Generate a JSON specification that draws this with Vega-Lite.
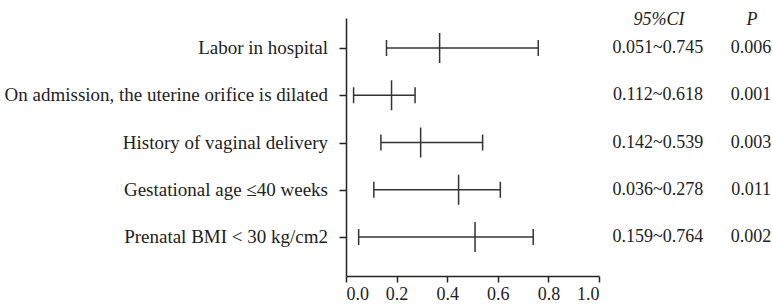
{
  "$schema": "https://vega.github.io/schema/vega-lite/v6.json",
  "width": 253,
  "height": 258,
  "autosize": {"type": "none"},
  "padding": {"left": 346, "top": 18, "right": 173, "bottom": 31},
  "background": "white",
  "config": {
    "view": {"stroke": null},
    "font": "Liberation Serif",
    "text": {"font": "Liberation Serif"}
  },
  "data": {
    "values": [
      {"factor": "Labor in hospital", "row": 5, "lo": 0.16, "or": 0.37, "hi": 0.76, "ci": "0.051~0.745", "p": "0.006"},
      {"factor": "On admission, the uterine orifice is dilated", "row": 4, "lo": 0.03, "or": 0.18, "hi": 0.273, "ci": "0.112~0.618", "p": "0.001"},
      {"factor": "History of vaginal delivery", "row": 3, "lo": 0.138, "or": 0.295, "hi": 0.54, "ci": "0.142~0.539", "p": "0.003"},
      {"factor": "Gestational age ≤40 weeks", "row": 2, "lo": 0.11, "or": 0.445, "hi": 0.61, "ci": "0.036~0.278", "p": "0.011"},
      {"factor": "Prenatal BMI < 30 kg/cm2", "row": 1, "lo": 0.05, "or": 0.51, "hi": 0.74, "ci": "0.159~0.764", "p": "0.002"}
    ]
  },
  "layer": [
    {
      "mark": {"type": "rule", "color": "#333", "strokeWidth": 1.5},
      "encoding": {
        "y": {
          "field": "row",
          "type": "quantitative",
          "title": null,
          "scale": {"domain": [0.175, 5.635], "nice": false, "zero": false},
          "axis": {"values": [1, 2, 3, 4, 5], "labels": false, "grid": false, "tickSize": 7, "domainColor": "#222", "tickColor": "#222", "domainWidth": 1.5, "tickWidth": 1.5}
        },
        "x": {
          "field": "lo",
          "type": "quantitative",
          "title": null,
          "scale": {"domain": [0, 1], "nice": false, "zero": false},
          "axis": {"values": [0, 0.2, 0.4, 0.6, 0.8, 1.0], "format": ".1f", "grid": false, "tickSize": 6, "labelFontSize": 18, "labelPadding": 3, "labelColor": "#222", "domainColor": "#222", "tickColor": "#222", "domainWidth": 1.5, "tickWidth": 1.5, "labelFont": "Liberation Serif"}
        },
        "x2": {"field": "hi"}
      }
    },
    {
      "mark": {"type": "tick", "orient": "vertical", "size": 16, "thickness": 1.5, "color": "#333", "opacity": 1},
      "encoding": {"x": {"field": "lo", "type": "quantitative", "title": null}, "y": {"field": "row", "type": "quantitative", "title": null}}
    },
    {
      "mark": {"type": "tick", "orient": "vertical", "size": 16, "thickness": 1.5, "color": "#333", "opacity": 1},
      "encoding": {"x": {"field": "hi", "type": "quantitative", "title": null}, "y": {"field": "row", "type": "quantitative", "title": null}}
    },
    {
      "mark": {"type": "tick", "orient": "vertical", "size": 30, "thickness": 1.5, "color": "#333", "opacity": 1},
      "encoding": {"x": {"field": "or", "type": "quantitative", "title": null}, "y": {"field": "row", "type": "quantitative", "title": null}}
    },
    {
      "mark": {"type": "text", "align": "right", "baseline": "middle", "dx": -18, "fontSize": 19, "color": "#222"},
      "encoding": {"x": {"datum": 0, "type": "quantitative"}, "y": {"field": "row", "type": "quantitative", "title": null}, "text": {"field": "factor"}}
    },
    {
      "mark": {"type": "text", "align": "center", "baseline": "middle", "fontSize": 18, "color": "#222"},
      "encoding": {"x": {"datum": 1.233, "type": "quantitative"}, "y": {"field": "row", "type": "quantitative", "title": null}, "text": {"field": "ci"}}
    },
    {
      "mark": {"type": "text", "align": "center", "baseline": "middle", "fontSize": 18, "color": "#222"},
      "encoding": {"x": {"datum": 1.601, "type": "quantitative"}, "y": {"field": "row", "type": "quantitative", "title": null}, "text": {"field": "p"}}
    },
    {
      "data": {"values": [{"label": "95%CI", "col": 1.237}, {"label": "P", "col": 1.605}]},
      "mark": {"type": "text", "align": "center", "baseline": "middle", "fontSize": 18, "fontStyle": "italic", "color": "#222"},
      "encoding": {"x": {"field": "col", "type": "quantitative", "title": null}, "y": {"datum": 5.593, "type": "quantitative"}, "text": {"field": "label"}}
    }
  ]
}
